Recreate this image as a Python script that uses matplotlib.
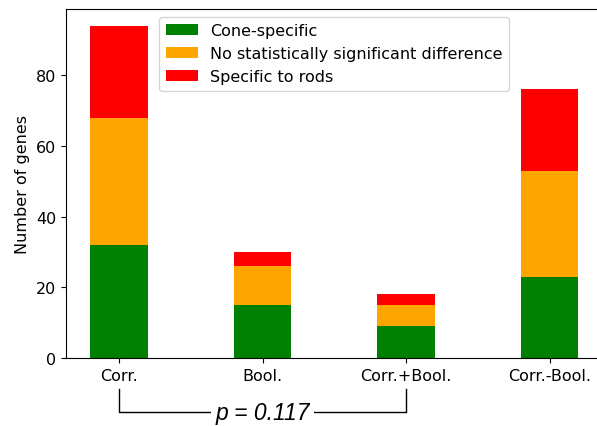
import numpy as np
import matplotlib
matplotlib.use("Agg")
import matplotlib.pyplot as plt

categories = ["Corr.", "Bool.", "Corr.+Bool.", "Corr.-Bool."]
cone_specific = [32, 15, 9, 23]
no_difference = [36, 11, 6, 30]
rod_specific = [26, 4, 3, 23]
p_value = "0.117"

plt.rcParams["font.size"] = 11.5

fig = plt.figure(figsize=(5.97, 4.27), dpi=100)
ax = fig.add_axes([0.1106, 0.1593, 0.899, 0.8173])

x = np.arange(len(categories))
bottom2 = np.array(cone_specific) + np.array(no_difference)
ax.bar(x, cone_specific, 0.4, color="green", label="Cone-specific")
ax.bar(x, no_difference, 0.4, bottom=cone_specific, color="orange",
       label="No statistically significant difference")
ax.bar(x, rod_specific, 0.4, bottom=bottom2, color="red", label="Specific to rods")

ax.set_xticks(x)
ax.set_xticklabels(categories)
ax.set_ylabel("Number of genes")
ax.legend(loc="upper center")

# bracket between Corr. and Corr.+Bool.
trans = ax.get_xaxis_transform()
ax.plot([0, 0, 2, 2], [-0.089, -0.155, -0.155, -0.089], color="black",
        lw=1, transform=trans, clip_on=False)
ax.text(1, -0.155, "p = " + p_value, transform=trans, ha="center", va="center",
        fontsize=16.5, style="italic", family="Liberation Sans",
        bbox=dict(facecolor="white", edgecolor="none", pad=3))

fig.savefig("out.png")
